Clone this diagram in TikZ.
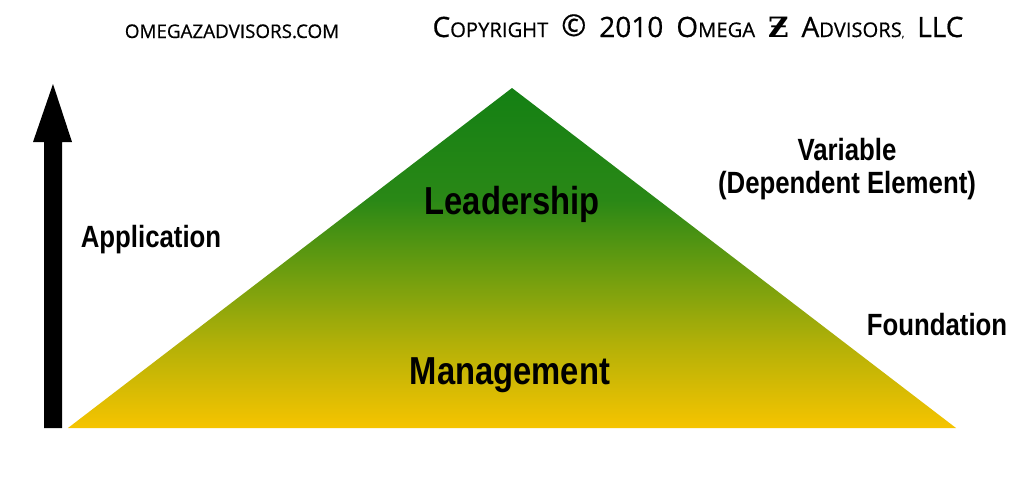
\documentclass[tikz,border=0pt]{standalone}
\usepackage{fontspec}
\newfontfamily\lab[FakeStretch=0.84]{Liberation Sans}
\newfontfamily\hfont[FakeBold=0.6]{Open Sans}
\newfontfamily\zfont{DejaVu Serif}
\newcommand\bigc[1]{{\fontsize{28}{30}\selectfont #1}}
\newcommand\smc[1]{{\fontsize{20.2}{22}\selectfont #1}}
\newcommand\gap{\hspace{13pt}}
\definecolor{gA}{RGB}{20,128,20}
\definecolor{gB}{RGB}{42,136,22}
\definecolor{gC}{RGB}{112,158,15}
\definecolor{gD}{RGB}{178,176,8}
\definecolor{gE}{RGB}{246,196,0}
\pgfdeclareverticalshading{tri}{100bp}{color(0bp)=(gE); color(25bp)=(gE); color(37.5bp)=(gD); color(47.5bp)=(gC); color(58.5bp)=(gB); color(75bp)=(gA); color(100bp)=(gA)}
\begin{document}
\begin{tikzpicture}[x=1pt,y=-1pt,
  lbl/.style={inner sep=0pt,anchor=base,font=\lab\bfseries\fontsize{30.7}{34}\selectfont},
  big/.style={inner sep=0pt,anchor=base,font=\lab\bfseries\fontsize{39}{42}\selectfont},
  hdr/.style={inner sep=0pt,anchor=base,font=\hfont}]
\useasboundingbox[fill=white] (0,0) rectangle (1024,477);
% pyramid
\coordinate (apex) at (512,88);
\coordinate (bl) at (68,428);
\coordinate (br) at (956,428);
\shade[shading=tri] (apex) -- (br) -- (bl) -- cycle;
% arrow
\coordinate (atip) at (53,84);
\fill[black] (44,428) -- (44,142) -- (33,142) -- (atip) -- (72,142) -- (62,142) -- (62,428) -- cycle;
% labels
\node[big] (lead) at (512,214) {Leadership};
\node[big] (mgmt) at (510,384) {Management};
\node[lbl] (app) at (151,247) {Application};
\node[lbl] (var) at (847,160) {Variable};
\node[lbl] (dep) at (847,193) {(Dependent Element)};
\node[lbl] (fnd) at (937,335) {Foundation};
% header
\node[hdr] (web) at (232,38) {{\fontsize{18.8}{22}\selectfont OMEGAZADVISORS.COM}};
\node[hdr] (copy) at (698,37) {\bigc{C}\smc{OPYRIGHT}\gap\raisebox{1pt}{\fontsize{30}{32}\selectfont\textcopyright}\gap\bigc{2010}\gap\bigc{O}\smc{MEGA}\gap{\zfont\bfseries\fontsize{28}{30}\selectfont Ƶ}\gap\bigc{A}\smc{DVISORS},\gap\bigc{LLC}};
\end{tikzpicture}
\end{document}
